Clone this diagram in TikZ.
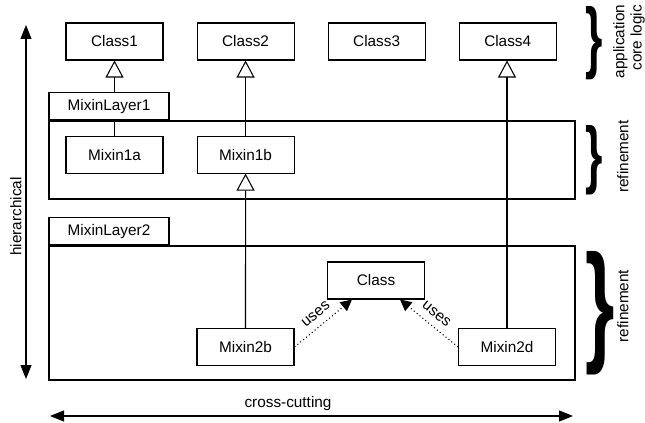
\documentclass[tikz,border=0pt]{standalone}
\usepackage{fontspec}
\setmainfont{Liberation Sans}
\usepackage{graphicx}
\usetikzlibrary{positioning,arrows.meta}

\tikzset{
	klass/.style={draw,line width=0.8pt,minimum width=72.75pt,minimum height=27.75pt,inner sep=0pt},
	layerbox/.style={draw,line width=0.8pt,minimum width=394.5pt,inner sep=0pt},
	tab/.style={draw,fill=white,line width=0.8pt,minimum width=90pt,minimum height=20.5pt,inner sep=0pt,anchor=south west},
	inherit/.style={-{Triangle[open,length=12.75pt,width=13.5pt]},line width=0.8pt},
	uses/.style={dotted,-{Triangle[length=8.5pt,width=8.5pt]},line width=0.8pt},
	axis/.style={{Triangle[length=10.5pt,width=8.25pt]}-{Triangle[length=10.5pt,width=8.25pt]},line width=0.8pt},
	side/.style={rotate=90}
}

\begin{document}
\begin{tikzpicture}[x=0.75pt,y=-0.75pt,font=\fontsize{11.5pt}{13pt}\selectfont,node distance=24.75pt]
	\useasboundingbox (0,0) rectangle (645,423);

	% layers
	\node[layerbox,minimum height=58.5pt] (layer1) at (312,160) {};
	\node[layerbox,minimum height=100.5pt] (layer2) at (312,313) {};

	% classes
	\node[klass] (c1) at (114.5,41.5) {Class1};
	\node[klass] (c2) [right=of c1] {Class2};
	\node[klass] (c3) [right=of c2] {Class3};
	\node[klass] (c4) [right=of c3] {Class4};
	\node[klass] (m1a) [below=56.25pt of c1] {Mixin1a};
	\node[klass] (m1b) [right=of m1a] {Mixin1b};
	\node[klass] (cls) at (376,280.5) {Class};
	\node[klass] (m2b) at (245.5,347) {Mixin2b};
	\node[klass] (m2d) at (507,347) {Mixin2d};

	\draw[inherit] (m1a) -- (c1);
	\draw[inherit] (m1b) -- (c2);
	\draw[inherit] (m2b) -- (m1b);
	\draw[inherit] (m2d.north) -- (m2d.north |- c4.south);
	\draw[uses] (m2b.east) -- ([xshift=-18pt]cls.south) node[midway,above=2pt,sloped] {uses};
	\draw[uses] (m2d.west) -- ([xshift=18pt]cls.south) node[midway,above=2pt,sloped] {uses};

	\node[tab] (tab1) at (layer1.north west) {MixinLayer1};
	\node[tab] (tab2) at (layer2.north west) {MixinLayer2};

	% axes
	\coordinate (htop) at (26,25);
	\coordinate (hbot) at (26,379);
	\coordinate (cleft) at (50,416);
	\coordinate (cright) at (573,416);
	\draw[axis] (htop) -- (hbot);
	\draw[axis] (cleft) -- (cright);
	\node[side] (hier) at (16,216.5) {hierarchical};
	\node (cross) at (288,404) {cross-cutting};

	% braces
	\node[inner sep=0pt] (br0) at (594.5,43.5) {\resizebox{13pt}{42.75pt}{\textbf{\}}}};
	\node[inner sep=0pt] (br1) at (594.5,160) {\resizebox{13pt}{40.5pt}{\textbf{\}}}};
	\node[inner sep=0pt] (br2) at (600,313) {\resizebox{22pt}{72pt}{\textbf{\}}}};
	\node[side,align=right,anchor=east,inner sep=2pt] (app) at (629,2) {application\\core logic};
	\node[side] (ref1) at (623,156.5) {refinement};
	\node[side] (ref2) at (623,306) {refinement};
\end{tikzpicture}
\end{document}
